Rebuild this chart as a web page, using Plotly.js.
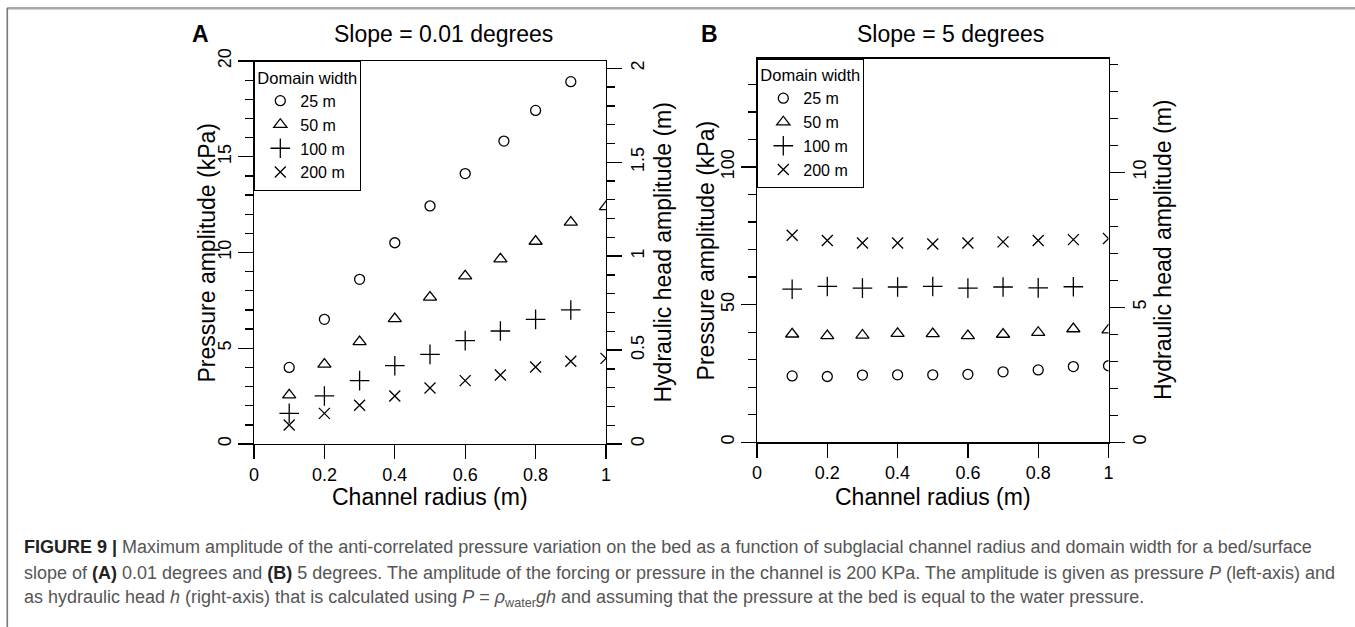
<!DOCTYPE html>
<html>
<head>
<meta charset="utf-8">
<script src="https://cdn.plot.ly/plotly-3.0.1.min.js"></script>
<style>
  html, body { margin: 0; padding: 0; background: #fff; }
  #chart { width: 1355px; height: 627px; }
</style>
</head>
<body>
<div id="chart"></div>
<script>
// ---------------- data ----------------
const seriesNames = ['25 m', '50 m', '100 m', '200 m'];

// Panel A: slope = 0.01 degrees (pressure amplitude, kPa)
const radiusA25  = [0.1, 0.2, 0.3, 0.4, 0.5, 0.6, 0.71, 0.8, 0.9];
const pressA25   = [4.00, 6.51, 8.60, 10.51, 12.43, 14.12, 15.82, 17.42, 18.92];
const radiusA50  = [0.1, 0.2, 0.3, 0.4, 0.5, 0.6, 0.7, 0.8, 0.9, 1.0];
const pressA50   = [2.56, 4.16, 5.34, 6.54, 7.66, 8.77, 9.66, 10.58, 11.58, 12.39];
const radiusA100 = [0.1, 0.2, 0.3, 0.4, 0.5, 0.6, 0.7, 0.8, 0.9];
const pressA100  = [1.60, 2.51, 3.31, 4.09, 4.68, 5.40, 5.90, 6.51, 7.00];
const radiusA200 = [0.1, 0.2, 0.3, 0.4, 0.5, 0.6, 0.7, 0.8, 0.9, 1.0];
const pressA200  = [0.99, 1.60, 2.02, 2.51, 2.92, 3.31, 3.60, 4.02, 4.32, 4.47];

// Panel B: slope = 5 degrees (pressure amplitude, kPa)
const radiusB25  = [0.1, 0.2, 0.3, 0.4, 0.5, 0.6, 0.7, 0.8, 0.9, 1.0];
const pressB25   = [24.1, 23.9, 24.4, 24.5, 24.5, 24.7, 25.6, 26.3, 27.5, 27.8];
const radiusB50  = [0.1, 0.2, 0.3, 0.4, 0.5, 0.6, 0.7, 0.8, 0.9, 1.0];
const pressB50   = [39.3, 38.7, 38.9, 39.5, 39.4, 38.7, 39.2, 39.9, 41.2, 40.8];
const radiusB100 = [0.1, 0.2, 0.3, 0.4, 0.5, 0.6, 0.7, 0.8, 0.9];
const pressB100  = [55.6, 56.6, 56.0, 56.4, 56.6, 56.0, 56.4, 56.1, 56.5];
const radiusB200 = [0.1, 0.2, 0.3, 0.4, 0.5, 0.6, 0.7, 0.8, 0.9, 1.0];
const pressB200  = [75.2, 73.3, 72.4, 72.4, 72.0, 72.4, 72.8, 73.3, 73.6, 74.0];

// axis ranges (kPa) and conversion P = rho g h  ->  h(m) = P(kPa)/9.81
const rhoG = 9.81;
const pRangeA = [0, 20];
const pRangeB = [0, 139.4];

// ---------------- styling ----------------
const W = 1355, H = 627;
const FONT = 'Liberation Sans, Arial, Helvetica, sans-serif';
const fx = p => p / W;
const fy = p => 1 - p / H;

const symbols = ['circle-open', 'triangle-up-open', 'cross-thin-open', 'x-thin-open'];
const sizes = [10, 11.5, 14, 11];

function mk(x, y, i, xa, ya, legend) {
  return {
    type: 'scatter', mode: 'markers', x: x, y: y,
    xaxis: xa, yaxis: ya, name: seriesNames[i],
    legend: legend, showlegend: true, cliponaxis: true,
    marker: { symbol: symbols[i], size: sizes[i], color: 'black',
              line: { color: 'black', width: 1.3 } },
    hoverinfo: 'x+y'
  };
}

const traces = [
  mk(radiusA25,  pressA25,  0, 'x', 'y', 'legend'),
  mk(radiusA50,  pressA50,  1, 'x', 'y', 'legend'),
  mk(radiusA100, pressA100, 2, 'x', 'y', 'legend'),
  mk(radiusA200, pressA200, 3, 'x', 'y', 'legend'),
  mk(radiusB25,  pressB25,  0, 'x2', 'y3', 'legend2'),
  mk(radiusB50,  pressB50,  1, 'x2', 'y3', 'legend2'),
  mk(radiusB100, pressB100, 2, 'x2', 'y3', 'legend2'),
  mk(radiusB200, pressB200, 3, 'x2', 'y3', 'legend2'),
  // invisible helpers so the right-hand (hydraulic head) axes are drawn
  { type: 'scatter', mode: 'markers', x: [null], y: [null], xaxis: 'x', yaxis: 'y2', showlegend: false, hoverinfo: 'skip' },
  { type: 'scatter', mode: 'markers', x: [null], y: [null], xaxis: 'x2', yaxis: 'y4', showlegend: false, hoverinfo: 'skip' }
];

// plot boxes in pixels
const boxA = { x0: 254, x1: 606, top: 61, bot: 444 };
const boxB = { x0: 757, x1: 1108.5, top: 58.5, bot: 442.3 };

const lw = 1.3;
function xAxis(box, anchor) {
  return {
    domain: [fx(box.x0), fx(box.x1)], anchor: anchor, range: [0, 1],
    showline: true, linecolor: 'black', linewidth: lw, mirror: true,
    ticks: 'outside', ticklen: 14, tickwidth: lw, tickcolor: 'black',
    tick0: 0, dtick: 0.2, showgrid: false, zeroline: false,
    tickfont: { family: FONT, size: 18, color: 'black' }, automargin: false
  };
}
function yAxis(box, anchor, range, dtick, minorDtick, side, overlaying) {
  const a = {
    domain: [fy(box.bot), fy(box.top)], anchor: anchor, range: range,
    showline: true, linecolor: 'black', linewidth: lw, mirror: side === 'left',
    ticks: 'outside', ticklen: 15, tickwidth: lw, tickcolor: 'black',
    tick0: 0, dtick: dtick, tickangle: -90,
    minor: { dtick: minorDtick, tick0: 0, ticks: 'outside', ticklen: 8, tickwidth: lw, tickcolor: 'black', showgrid: false },
    showgrid: false, zeroline: false, side: side,
    tickfont: { family: FONT, size: 18, color: 'black' }, automargin: false
  };
  if (overlaying) a.overlaying = overlaying;
  return a;
}

function legendAt(box) {
  return {
    x: fx(box.x0), y: fy(box.top), xanchor: 'left', yanchor: 'top',
    xref: 'paper', yref: 'paper',
    bgcolor: 'white', bordercolor: 'black', borderwidth: lw,
    font: { family: FONT, size: 16, color: 'black' },
    title: { text: 'Domain width', font: { family: FONT, size: 16.5, color: 'black' } },
    tracegroupgap: 0, itemsizing: 'trace', traceorder: 'normal', indentation: 5
  };
}

function ann(text, x, y, size, opts) {
  return Object.assign({
    text: text, x: fx(x), y: fy(y), xref: 'paper', yref: 'paper',
    showarrow: false, xanchor: 'center', yanchor: 'middle',
    font: { family: FONT, size: size, color: 'black' }
  }, opts || {});
}

const capSize = 18;
const capFont = { family: FONT, size: capSize, color: '#555' };
const annotations = [
  ann('<b>A</b>', 200, 34, 23),
  ann('Slope = 0.01 degrees', 443, 34, 23),
  ann('<b>B</b>', 709.5, 34, 23),
  ann('Slope = 5 degrees', 950, 34, 23),
  ann('Pressure amplitude (kPa)', 206, (boxA.top + boxA.bot) / 2, 23, { textangle: -90 }),
  ann('Hydraulic head amplitude (m)', 662, (boxA.top + boxA.bot) / 2, 23, { textangle: -90 }),
  ann('Pressure amplitude (kPa)', 706, (boxB.top + boxB.bot) / 2, 23, { textangle: -90 }),
  ann('Hydraulic head amplitude (m)', 1163.5, (boxB.top + boxB.bot) / 2, 23, { textangle: -90 }),
  ann('Channel radius (m)', (boxA.x0 + boxA.x1) / 2, 497, 23),
  ann('Channel radius (m)', (boxB.x0 + boxB.x1) / 2, 497, 23),
  ann('<span style="color:#222"><b>FIGURE 9 |</b></span> Maximum amplitude of the anti-correlated pressure variation on the bed as a function of subglacial channel radius and domain width for a bed/surface',
      22, 547, capSize, { xanchor: 'left', align: 'left', font: capFont }),
  ann('slope of <span style="color:#222"><b>(A)</b></span> 0.01 degrees and <span style="color:#222"><b>(B)</b></span> 5 degrees. The amplitude of the forcing or pressure in the channel is 200 KPa. The amplitude is given as pressure <i>P</i> (left-axis) and',
      22, 573, capSize, { xanchor: 'left', align: 'left', font: capFont }),
  ann('as hydraulic head <i>h</i> (right-axis) that is calculated using <i>P</i> = <i>ρ</i><sub>water</sub><i>gh</i> and assuming that the pressure at the bed is equal to the water pressure.',
      22, 598, capSize, { xanchor: 'left', align: 'left', font: capFont })
];

const shapes = [
  { type: 'line', xref: 'paper', yref: 'paper', x0: fx(7), x1: 1, y0: fy(8), y1: fy(8), line: { color: '#555', width: 1.2 } },
  { type: 'line', xref: 'paper', yref: 'paper', x0: fx(7), x1: 1, y0: fy(9.5), y1: fy(9.5), line: { color: '#d0d0d0', width: 1 } },
  { type: 'line', xref: 'paper', yref: 'paper', x0: fx(7.3), x1: fx(7.3), y0: fy(8), y1: 0, line: { color: '#777', width: 1.6 } }
];

const layout = {
  width: W, height: H,
  margin: { l: 0, r: 0, t: 0, b: 0, pad: 0 },
  paper_bgcolor: 'white', plot_bgcolor: 'white',
  font: { family: FONT, color: 'black' },
  showlegend: true,
  xaxis: xAxis(boxA, 'y'),
  yaxis: yAxis(boxA, 'x', pRangeA, 5, 1, 'left'),
  yaxis2: yAxis(boxA, 'x', [pRangeA[0] / rhoG, pRangeA[1] / rhoG], 0.5, 0.1, 'right', 'y'),
  xaxis2: xAxis(boxB, 'y3'),
  yaxis3: yAxis(boxB, 'x2', pRangeB, 50, 10, 'left'),
  yaxis4: yAxis(boxB, 'x2', [pRangeB[0] / rhoG, pRangeB[1] / rhoG], 5, 1, 'right', 'y3'),
  legend: legendAt(boxA),
  legend2: legendAt(boxB),
  annotations: annotations,
  shapes: shapes
};

Plotly.newPlot('chart', traces, layout, { displayModeBar: false, staticPlot: true });
</script>
</body>
</html>
